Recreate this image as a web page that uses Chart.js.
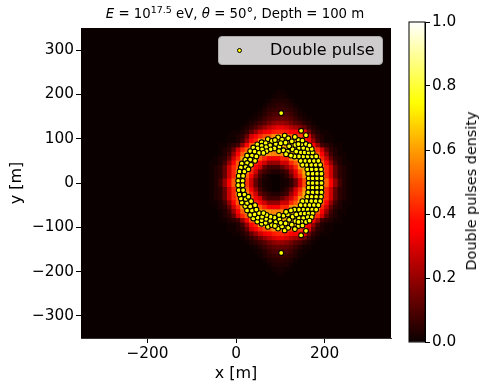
<!DOCTYPE html>
<html>
<head>
<meta charset="utf-8">
<script src="https://cdn.jsdelivr.net/npm/chart.js@4/dist/chart.umd.min.js"></script>
<style>
    body { margin: 0; background: #fff; width: 488px; height: 390px; overflow: hidden; font-family: "DejaVu Sans", sans-serif; color: #000; }
    canvas { position: absolute; top: 0; }
    #main { left: 0; }
    #bar { left: 400px; }
    .txt { position: absolute; white-space: nowrap; }
    #title { left: 35px; width: 400px; top: 4px; text-align: center; font-size: 13.3px; line-height: 20px; }
    #title sup { font-size: 9.5px; line-height: 0; }
    #legend { left: 218px; top: 36px; width: 165px; height: 29px; box-sizing: border-box; background: rgba(255,255,255,0.8); border: 1px solid #aaa; border-radius: 4px; }
    #legend i { position: absolute; left: 18px; top: 11px; width: 3px; height: 3px; background: #ff0; border: 1px solid #000; border-radius: 50%; }
    #legend span { position: absolute; left: 51px; top: 0; line-height: 26px; font-size: 16px; }
    #cblabel { left: 471px; top: 191px; font-size: 14.4px; transform: translate(-50%, -50%) rotate(-90deg); }
</style>
</head>
<body>
<canvas id="main" width="400" height="390"></canvas>
<canvas id="bar" width="88" height="390"></canvas>
<div class="txt" id="title"><i>E</i> = 10<sup>17.5</sup> eV, <i>θ</i> = 50°, Depth = 100 m</div>
<div class="txt" id="legend"><i></i><span>Double pulse</span></div>
<div class="txt" id="cblabel">Double pulses density</div>
<script>
// Axis ticks
var xTicks = [-200, 0, 200];
var yTicks = [-300, -200, -100, 0, 100, 200, 300];
var barTicks = [0, 0.2, 0.4, 0.6, 0.8, 1];

// Heat map cell centres (m), density in percent, one list per |y| row
var cellX = [-65,-55,-45,-35,-25,-15,-5,5,15,25,35,45,55,65,75,85,95,105,115,125,135,145,155,165,175,185,195,205,215,225,235,245,255];
var r5 = [0,1,3,8,20,36,50,62,62,44,28,13,5,2,1,0,0,1,2,5,14,30,48,62,62,62,62,50,36,20,8,3,1];
var r15 = [0,1,3,5,13,28,42,62,62,50,34,20,8,3,1,0,0,2,5,13,28,42,58,62,62,62,62,42,28,13,5,3,1];
var r25 = [0,1,3,5,13,28,42,62,62,58,42,28,13,8,5,3,3,5,8,20,32,48,62,62,62,62,62,42,28,13,5,3,1];
var r35 = [0,1,3,5,13,28,42,50,62,62,48,34,28,13,8,8,8,13,20,28,42,58,62,62,62,62,50,42,28,13,5,3,1];
var r45 = [0,1,1,3,8,20,36,50,62,62,60,42,36,28,20,20,20,28,28,42,50,62,62,62,62,62,50,36,20,8,3,1,1];
var r55 = [0,0,1,3,5,13,28,42,60,62,62,62,50,42,36,34,34,42,42,58,62,62,62,62,62,60,42,28,13,5,3,1,0];
var r65 = [0,0,0,1,3,8,20,36,50,62,62,62,62,60,58,56,56,58,60,62,62,62,62,62,62,50,36,20,8,3,1,1,0];
var r75 = [0,0,0,1,3,5,13,28,42,50,62,62,62,62,62,62,62,62,62,62,62,62,62,62,50,42,28,13,5,3,1,0,0];
var r85 = [0,0,0,1,1,3,5,8,20,36,50,62,62,62,62,62,62,62,62,62,62,62,62,50,36,20,8,5,3,1,1,0,0];
var r95 = [0,0,0,0,0,1,1,3,8,20,36,42,58,62,62,62,62,62,62,62,62,58,42,36,20,8,3,1,1,0,0,0,0];
var r105 = [0,0,0,0,0,1,1,3,5,13,28,36,42,48,50,58,62,62,58,50,48,46,42,30,13,5,3,1,1,0,0,0,0];
var r115 = [0,0,0,0,0,0,1,1,3,6,13,20,28,33,36,40,42,42,40,36,34,36,32,15,6,3,1,1,0,0,0,0,0];
var r125 = [0,0,0,0,0,0,0,0,1,3,6,10,15,20,25,29,32,32,29,25,22,18,13,6,3,1,0,0,0,0,0,0,0];
var r135 = [0,0,0,0,0,0,0,0,0,1,3,5,8,11,15,18,20,20,18,15,11,9,5,3,1,0,0,0,0,0,0,0,0];
var r145 = [0,0,0,0,0,0,0,0,0,0,1,2,4,7,10,12,13,13,12,10,7,4,2,1,0,0,0,0,0,0,0,0,0];
var r155 = [0,0,0,0,0,0,0,0,0,0,0,1,2,4,7,9,10,10,9,7,4,2,1,0,0,0,0,0,0,0,0,0,0];
var r165 = [0,0,0,0,0,0,0,0,0,0,0,0,1,3,5,6,7,7,6,5,3,1,0,0,0,0,0,0,0,0,0,0,0];
var r175 = [0,0,0,0,0,0,0,0,0,0,0,0,0,1,3,4,5,5,4,3,1,0,0,0,0,0,0,0,0,0,0,0,0];
var r185 = [0,0,0,0,0,0,0,0,0,0,0,0,0,0,1,3,3,3,3,1,0,0,0,0,0,0,0,0,0,0,0,0,0];
var r195 = [0,0,0,0,0,0,0,0,0,0,0,0,0,0,0,1,2,2,1,0,0,0,0,0,0,0,0,0,0,0,0,0,0];
var r205 = [0,0,0,0,0,0,0,0,0,0,0,0,0,0,0,0,1,1,0,0,0,0,0,0,0,0,0,0,0,0,0,0,0];
var cellY = [205,195,185,175,165,155,145,135,125,115,105,95,85,75,65,55,45,35,25,15,5,-5,-15,-25,-35,-45,-55,-65,-75,-85,-95,-105,-115,-125,-135,-145,-155,-165,-175,-185,-195,-205];
var cellRows = [r205,r195,r185,r175,r165,r155,r145,r135,r125,r115,r105,r95,r85,r75,r65,r55,r45,r35,r25,r15,r5,r5,r15,r25,r35,r45,r55,r65,r75,r85,r95,r105,r115,r125,r135,r145,r155,r165,r175,r185,r195,r205];

// Double pulse positions (m): ringX goes with both ringYTop and ringYBottom
var ringX = [164,173,183,193,163,173,183,193,161,171,181,192,159,170,180,190,156,166,176,186,152,162,172,181,146,155,164,173,142,152,162,171,148,158,166,141,150,133,110,118,126,134,95,104,112,120,128,136,72,81,90,98,107,117,58,67,77,87,97,48,58,68,78,39,49,59,69,32,42,52,62,25,36,46,21,32,43,13,25,34,11,22,8,19,28,6,16,5,15,147,158,102,150,146,142,132,124,113,141,88,101];
var ringYTop = [10.5,10.5,10.5,10.5,21,21,21,21,31,31,31,31,41,41,41,41,50,50,50,50,60,60,60,60,69,69,69,69,79,79,77,77,88,88,85,97,96,104,107,101,94,86,103,98,91,83,76,71,99,95,88,82,74,71,92,90,85,78,72,87,84,81,76,80,78,76,72,72,71,68,68,62,62,60,52,53,50,44,45,41,35,36,26,26,31,16,16,5,5,118,108,158,41,50,60,60,62,65,88,97,90];
var ringYBottom = [-10.5,-10.5,-10.5,-10.5,-21,-21,-21,-21,-31,-31,-31,-31,-41,-41,-41,-41,-50,-50,-50,-50,-60,-60,-60,-60,-69,-69,-69,-69,-79,-79,-77,-77,-88,-88,-85,-97,-96,-104,-107,-101,-94,-86,-103,-98,-91,-83,-76,-71,-99,-95,-88,-82,-74,-71,-92,-90,-85,-78,-72,-87,-84,-81,-76,-80,-78,-76,-72,-72,-71,-68,-68,-62,-62,-60,-52,-53,-50,-44,-45,-41,-35,-36,-26,-26,-31,-16,-16,-5,-5,-118,-108,-158,-41,-50,-60,-60,-62,-65,-88,-97,-90];
var centerX = [164,173,183,193];
var centerY = [0,0,0,0];

// matplotlib "hot" colormap
function hotColor(v) {
    var r = Math.min(1, 0.0416 + v / 0.365);
    var g = Math.max(0, Math.min(1, (v - 0.365) / 0.381));
    var b = Math.max(0, Math.min(1, (v - 0.746) / 0.254));
    return 'rgb(' + Math.round(r * 255) + ',' + Math.round(g * 255) + ',' + Math.round(b * 255) + ')';
}

var heatPoints = [];
var heatColors = [];
cellRows.forEach(function (row, j) {
    row.forEach(function (val, i) {
        if (val > 0) {
            heatPoints.push({ x: cellX[i], y: cellY[j] });
            heatColors.push(hotColor(val / 100));
        }
    });
});

var ringPoints = [];
ringX.forEach(function (x, i) { ringPoints.push({ x: x, y: ringYTop[i] }); });
ringX.forEach(function (x, i) { ringPoints.push({ x: x, y: ringYBottom[i] }); });
centerX.forEach(function (x, i) { ringPoints.push({ x: x, y: centerY[i] }); });

function minusLabel(value) {
    return String(value).replace('-', '\u2212');
}

// Paint the zero colour under the heat map
var plotBackground = {
    id: 'plotBackground',
    beforeDatasetsDraw: function (chart) {
        var a = chart.chartArea;
        chart.ctx.fillStyle = hotColor(0);
        chart.ctx.fillRect(a.left, a.top, a.width, a.height);
    }
};

new Chart(document.getElementById('main'), {
    type: 'scatter',
    data: {
        datasets: [
            { label: 'Double pulse', data: ringPoints, order: 1, pointStyle: 'circle', pointRadius: 2.4, pointBorderWidth: 1.1, pointBackgroundColor: '#ffff00', pointBorderColor: '#000000' },
            { label: 'Density', data: heatPoints, order: 2, pointStyle: 'rect', pointRadius: 3.45, pointBorderWidth: 0, pointBackgroundColor: heatColors }
        ]
    },
    options: {
        responsive: false,
        animation: false,
        layout: { padding: { top: 28, right: 9, bottom: 7, left: 7 } },
        plugins: { legend: { display: false }, tooltip: { enabled: false } },
        scales: {
            x: {
                type: 'linear', min: -350, max: 350,
                afterBuildTicks: function (s) { s.ticks = xTicks.map(function (v) { return { value: v }; }); },
                afterFit: function (s) { s.height = 45; },
                grid: { drawOnChartArea: false, tickLength: 5, color: '#000' },
                border: { color: '#333' },
                ticks: { color: '#000', padding: 2, maxRotation: 0, font: { family: 'DejaVu Sans', size: 15.3 }, callback: minusLabel },
                title: { display: true, text: 'x [m]', color: '#000', padding: 0, font: { family: 'DejaVu Sans', size: 16 } }
            },
            y: {
                type: 'linear', min: -350, max: 350,
                afterBuildTicks: function (s) { s.ticks = yTicks.map(function (v) { return { value: v }; }); },
                afterFit: function (s) { s.width = 74; },
                grid: { drawOnChartArea: false, tickLength: 5, color: '#000' },
                border: { color: '#333' },
                ticks: { color: '#000', padding: 2, font: { family: 'DejaVu Sans', size: 15.3 }, callback: minusLabel },
                title: { display: true, text: 'y [m]', color: '#000', padding: 0, font: { family: 'DejaVu Sans', size: 16 } }
            }
        }
    },
    plugins: [plotBackground]
});

// Colour bar, in its own canvas because it is taller than the plot box
function barGradient(context) {
    var area = context.chart.chartArea;
    if (!area) return '#000';
    var g = context.chart.ctx.createLinearGradient(0, area.bottom, 0, area.top);
    for (var k = 0; k <= 40; k++) {
        g.addColorStop(k / 40, hotColor(k / 40));
    }
    return g;
}

var barFrame = {
    id: 'barFrame',
    afterDraw: function (chart) {
        var a = chart.chartArea;
        chart.ctx.strokeStyle = '#000';
        chart.ctx.lineWidth = 1;
        chart.ctx.strokeRect(a.left, a.top, a.width, a.height);
    }
};

new Chart(document.getElementById('bar'), {
    type: 'bar',
    data: { labels: [''], datasets: [{ data: [[0, 1]], backgroundColor: barGradient, barPercentage: 1, categoryPercentage: 1 }] },
    options: {
        responsive: false,
        animation: false,
        layout: { padding: { top: 22, right: 0, bottom: 48, left: 9 } },
        plugins: { legend: { display: false }, tooltip: { enabled: false } },
        scales: {
            x: { display: false },
            y: {
                position: 'right', min: 0, max: 1,
                afterBuildTicks: function (s) { s.ticks = barTicks.map(function (v) { return { value: v }; }); },
                afterFit: function (s) { s.width = 63; },
                grid: { drawOnChartArea: false, tickLength: 5, color: '#000' },
                border: { color: '#000' },
                ticks: { color: '#000', padding: 2, font: { family: 'DejaVu Sans', size: 15.3 }, callback: function (v) { return v.toFixed(1); } }
            }
        }
    },
    plugins: [barFrame]
});
</script>
</body>
</html>
